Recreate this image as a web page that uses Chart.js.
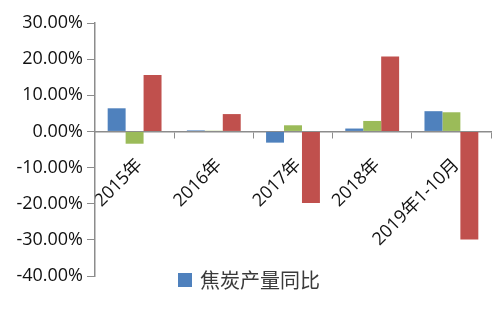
<!DOCTYPE html>
<html>
<head>
<meta charset="utf-8">
<script src="https://cdn.jsdelivr.net/npm/chart.js@4.4.0/dist/chart.umd.min.js"></script>
<style>
  html, body { margin: 0; padding: 0; background: #fff; }
  #wrap { position: relative; width: 499px; height: 314px; }
  #legend {
    position: absolute; left: 178px; top: 265px;
    font: 20px "Noto Sans CJK SC", sans-serif; color: #3a3a3a;
    display: flex; align-items: center; white-space: nowrap;
  }
  #legend span.box { display: inline-block; width: 14px; height: 14px; margin-right: 8px; }
</style>
</head>
<body>
<div id="wrap">
  <canvas id="chart" width="499" height="314"></canvas>
  <div id="legend"></div>
</div>
<script>
const categories = ["2015年", "2016年", "2017年", "2018年", "2019年1-10月"];
const cokeOutput = [6.4, 0.3, -3.1, 0.8, 5.6];
const seriesGreen = [-3.4, 0.2, 1.7, 2.9, 5.3];
const seriesRed = [15.6, 4.8, -19.8, 20.7, -29.9];
const legendLabel = "焦炭产量同比";

const fontFamily = "'Open Sans', 'Noto Sans CJK SC', sans-serif";
const axisColor = "#8c8c8c";

const ctx = document.getElementById("chart").getContext("2d");
const chart = new Chart(ctx, {
  type: "bar",
  data: {
    labels: categories,
    datasets: [
      { label: legendLabel, data: cokeOutput, backgroundColor: "#4f81bd" },
      { label: "", data: seriesGreen, backgroundColor: "#9bbb59" },
      { label: "", data: seriesRed, backgroundColor: "#c0504d" },
    ],
  },
  options: {
    responsive: false,
    animation: false,
    layout: { padding: { left: 0, right: 8, top: 23, bottom: 38 } },
    datasets: { bar: { barPercentage: 1, categoryPercentage: 0.68 } },
    plugins: { legend: { display: false }, tooltip: { enabled: false } },
    scales: {
      x: {
        position: { y: 0 },
        grid: { drawOnChartArea: false, tickLength: 6, color: axisColor },
        border: { color: axisColor, width: 1.5 },
        ticks: {
          minRotation: 45,
          maxRotation: 45,
          padding: 17,
          labelOffset: 5,
          color: "#111",
          font: { family: fontFamily, size: 18 },
        },
      },
      y: {
        min: -40,
        max: 30,
        afterFit: (scale) => { scale.width = 95; },
        grid: { drawOnChartArea: false, tickLength: 8, color: axisColor },
        border: { color: axisColor, width: 1.5 },
        ticks: {
          stepSize: 10,
          padding: 4,
          color: "#111",
          font: { family: fontFamily, size: 18 },
          callback: (v) => v.toFixed(2) + "%",
        },
      },
    },
  },
});

const legend = document.getElementById("legend");
const ds = chart.data.datasets[0];
legend.innerHTML = '<span class="box" style="background:' + ds.backgroundColor + '"></span>' + ds.label;
</script>
</body>
</html>
